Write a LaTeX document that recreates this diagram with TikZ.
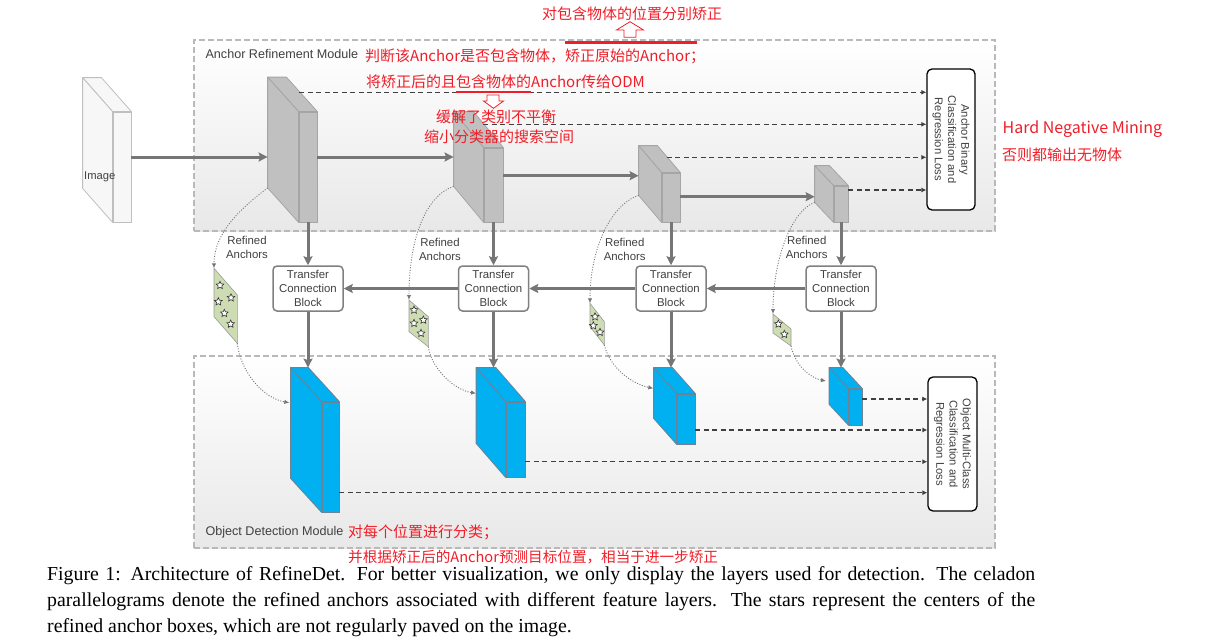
\documentclass[tikz,border=0pt]{standalone}
\usepackage{fontspec}
\setmainfont{Liberation Serif}
\setsansfont{Liberation Sans}
\newfontfamily\cjk{Noto Sans CJK SC}
\usetikzlibrary{calc,arrows.meta,shapes.geometric}
\definecolor{FlowGray}{RGB}{118,118,118}
\definecolor{TextGray}{RGB}{64,64,64}
\definecolor{LayerGray}{RGB}{192,192,192}
\definecolor{LayerEdge}{RGB}{165,165,165}
\definecolor{DetBlue}{RGB}{0,176,240}
\definecolor{DetEdge}{RGB}{110,130,150}
\definecolor{Celadon}{RGB}{205,220,178}
\definecolor{NoteRed}{RGB}{240,30,40}
\definecolor{ModuleEdge}{RGB}{185,185,185}
\tikzset{%
	% Style of the module frame
	Module/.style={rectangle,inner sep=0,draw=ModuleEdge,line width=1.3pt,dash pattern=on 6pt off 3pt,top color=white,bottom color=black!9},
	% Style of the module name
	ModuleName/.style={font=\sffamily\fontsize{12.6}{14}\selectfont,text=TextGray,anchor=west,inner sep=0},
	% Style of the front face of a layer
	Face/.style={rectangle,inner sep=0,line width=0.8pt},
	% Style of the transfer connection block
	Block/.style={rectangle,rounded corners=4pt,draw=black!50,line width=1.5pt,fill=white,minimum width=70pt,minimum height=45pt,align=center,font=\sffamily\fontsize{11.4}{14}\selectfont,text=TextGray,inner sep=0},
	% Style of the loss box and its text
	Loss/.style={rectangle,rounded corners=5pt,draw=black,line width=1.3pt,fill=white,inner sep=0},
	LossText/.style={rotate=-90,align=center,font=\sffamily\fontsize{11.2}{13.3}\selectfont,text=TextGray,inner sep=0},
	% Style of the small labels
	Label/.style={align=center,font=\sffamily\fontsize{11.4}{14}\selectfont,text=TextGray,inner sep=0},
	% Style of the red notes
	Note/.style={font=\cjk\fontsize{15}{18}\selectfont,text=NoteRed,anchor=west,inner sep=0},
	Hollow/.style={draw=NoteRed,fill=white,line width=0.8pt},
	Mark/.style={draw=NoteRed,line width=2.5pt},
	% Style of the connections
	Flow/.style={draw=FlowGray,line width=3pt,-{Stealth[length=9pt,width=9pt,inset=1.5pt]}},
	DashLink/.style={draw=black!75,line width=1.2pt,dash pattern=on 5pt off 3.5pt,-{Latex[length=5pt,width=5pt]}},
	DotLink/.style={draw=FlowGray,line width=0.9pt,dash pattern=on 1pt off 1.6pt,-{Latex[length=5pt,width=4.5pt]}},
	% Style of the refined anchors
	Anchors/.style={fill=Celadon,draw=black!40,line width=0.6pt},
	Star/.style={star,star points=5,star point ratio=2.1,minimum size=8pt,inner sep=0,draw=black!80,fill=white,line width=0.6pt},
	% Style of the caption
	Caption/.style={font=\rmfamily\fontsize{19.8}{26.5}\selectfont,anchor=base west,inner sep=0},
}
% layer: name, centre of front face, width, height, depth offset, fill, edge
\newcommand{\Layer}[7]{%
	\node[Face,fill=#6,draw=#7,minimum width=#3,minimum height=#4] (#1) at (#2) {};
	\filldraw[fill=#6,draw=#7,line width=0.8pt,line join=round] (#1.north west) -- ++(#5) coordinate (#1-bnw) -- ($(#1.north east)+(#5)$) coordinate (#1-bne) -- (#1.north east) -- cycle;
	\filldraw[fill=#6,draw=#7,line width=0.8pt,line join=round] (#1.north west) -- (#1-bnw) -- ($(#1.south west)+(#5)$) coordinate (#1-bsw) -- (#1.south west) -- cycle;
}
\begin{document}
\begin{tikzpicture}[x=1pt,y=-1pt] % STYLES
\useasboundingbox (0,0) rectangle (1222,640);

%~~~~~~~~~~~~~~~~~~~~~~~~~~~~~~~~~~~~~~~~~~~~~~~~~~
% Set Modules
%~~~~~~~~~~~~~~~~~~~~~~~~~~~~~~~~~~~~~~~~~~~~~~~~~~
\node[Module,minimum width=801pt,minimum height=191pt] (ARM) at (594.5,135.5) {};
\node[ModuleName] at ($ (ARM.north west) + (12, 15) $) {Anchor Refinement Module};

\node[Module,minimum width=801pt,minimum height=192pt] (ODM) at (594.5,452) {};
\node[ModuleName] at ($ (ODM.south west) + (12, -16.3) $) {Object Detection Module};

%~~~~~~~~~~~~~~~~~~~~~~~~~~~~~~~~~~~~~~~~~~~~~~~~~~
% Set Layers
%~~~~~~~~~~~~~~~~~~~~~~~~~~~~~~~~~~~~~~~~~~~~~~~~~~
\Layer{img}{122,167}{18pt}{110pt}{-30,-34}{black!3}{black!25}
\node[Label,anchor=west,font=\sffamily\fontsize{11.2}{13}\selectfont] at (84,176.7) {Image};

\Layer{L1}{308,167}{18pt}{110pt}{-31,-34.5}{LayerGray}{LayerEdge}
\Layer{L2}{493.5,185}{19pt}{74pt}{-30,-36}{LayerGray}{LayerEdge}
\Layer{L3}{671,197.5}{18pt}{49pt}{-23,-27}{LayerGray}{LayerEdge}
\Layer{L4}{841,204}{14pt}{36pt}{-19,-20}{LayerGray}{LayerEdge}

\Layer{D1}{330.5,457}{17pt}{110pt}{-31,-34}{DetBlue}{DetEdge}
\Layer{D2}{515.5,439.5}{19pt}{75pt}{-29.5,-34}{DetBlue}{DetEdge}
\Layer{D3}{686,419}{18pt}{50pt}{-23,-26}{DetBlue}{DetEdge}
\Layer{D4}{855.5,407}{13pt}{36pt}{-19.5,-21}{DetBlue}{DetEdge}

%~~~~~~~~~~~~~~~~~~~~~~~~~~~~~~~~~~~~~~~~~~~~~~~~~~
% Set Blocks
%~~~~~~~~~~~~~~~~~~~~~~~~~~~~~~~~~~~~~~~~~~~~~~~~~~
\node[Block] (T1) at (308,288.5) {Transfer\\Connection\\Block};
\node[Block] (T2) at (493.5,288.5) {Transfer\\Connection\\Block};
\node[Block] (T3) at (671,288.5) {Transfer\\Connection\\Block};
\node[Block] (T4) at (841,288.5) {Transfer\\Connection\\Block};

\node[Loss,minimum width=48pt,minimum height=141pt] (ARMLoss) at (951,139.5) {};
\node[LossText] at (ARMLoss) {Anchor Binary\\Classification and\\Regression Loss};

\node[Loss,minimum width=49pt,minimum height=134pt] (ODMLoss) at (952.5,444) {};
\node[LossText] at (ODMLoss) {Object Multi-Class\\Classification and\\Regression Loss};

%~~~~~~~~~~~~~~~~~~~~~~~~~~~~~~~~~~~~~~~~~~~~~~~~~~
% Set Refined Anchors
%~~~~~~~~~~~~~~~~~~~~~~~~~~~~~~~~~~~~~~~~~~~~~~~~~~
\filldraw[Anchors] (214,268.3) coordinate (R1top) -- (237.3,295) -- (237.3,343.3) coordinate (R1bot) -- (214,316.7) -- cycle;
\filldraw[Anchors] (409,300) coordinate (R2top) -- (428.3,316.7) -- (428.3,346.7) coordinate (R2bot) -- (409,331.7) -- cycle;
\filldraw[Anchors] (590,303.3) coordinate (R3top) -- (604.3,321.7) -- (604.3,345) coordinate (R3bot) -- (590,326.7) -- cycle;
\filldraw[Anchors] (773,314) coordinate (R4top) -- (791,329) -- (791,346) coordinate (R4bot) -- (773,333) -- cycle;

\foreach \p [count=\i] in {{220,285.3},{218.3,301.7},{231,297.7},{224.3,313.3},{230.7,324}}
	\node[Star] (S1-\i) at (\p) {};
\foreach \p [count=\i] in {{414,310},{414,323.3},{423.3,320},{421,333.3}}
	\node[Star] (S2-\i) at (\p) {};
\foreach \p [count=\i] in {{595,316.7},{593.3,325.7},{600,332.3}}
	\node[Star] (S3-\i) at (\p) {};
\foreach \p [count=\i] in {{778.3,324},{784.3,334.3}}
	\node[Star] (S4-\i) at (\p) {};

\node[Label] (RA1) at (247,247) {Refined\\Anchors};
\node[Label] (RA2) at (440,249) {Refined\\Anchors};
\node[Label] (RA3) at (624.7,249) {Refined\\Anchors};
\node[Label] (RA4) at (806.7,247) {Refined\\Anchors};

%~~~~~~~~~~~~~~~~~~~~~~~~~~~~~~~~~~~~~~~~~~~~~~~~~~
% Set Branches
%~~~~~~~~~~~~~~~~~~~~~~~~~~~~~~~~~~~~~~~~~~~~~~~~~~
%Branch from image to the refinement layers
\draw[Flow] (img.east |- 0,157) -- (L1-bnw |- 0,157);
\draw[Flow] (L1.east |- 0,157) -- (L2-bnw |- 0,157);
\draw[Flow] (L2.east |- 0,175.7) -- (L3-bnw |- 0,175.7);
\draw[Flow] (L3.east |- 0,196.7) -- (L4-bnw |- 0,196.7);

%Branch from refinement layers to blocks
\draw[Flow] (L1.south) -- (L1.south |- T1.north);
\draw[Flow] (L2.south) -- (L2.south |- T2.north);
\draw[Flow] (L3.south) -- (L3.south |- T3.north);
\draw[Flow] (L4.south) -- (L4.south |- T4.north);

%Branch between blocks
\draw[Flow] (T4.west) -- (T3.east);
\draw[Flow] (T3.west) -- (T2.east);
\draw[Flow] (T2.west) -- (T1.east);

%Branch from blocks to detection layers
\draw[Flow] (T1.south) -- (T1.south |- D1-bne);
\draw[Flow] (T2.south) -- (T2.south |- D2-bne);
\draw[Flow] (T3.south) -- (T3.south |- D3-bne);
\draw[Flow] (T4.south) -- (T4.south |- D4-bne);

%Branch to the losses
\coordinate (A1) at (299,92.3);
\coordinate (A2) at (483,124.3);
\coordinate (A3) at (666.5,157.3);
\coordinate (A4) at (L4.east |- 0,190);
\foreach \a in {A1,A2,A3,A4}
	\draw[DashLink] (\a) -- (\a -| ARMLoss.west);

\draw[DashLink] (D4.east |- 0,399) -- (ODMLoss.west |- 0,399);
\draw[DashLink] (D3.east |- 0,430) -- (ODMLoss.west |- 0,430);
\draw[DashLink] (D2.east |- 0,461.7) -- (ODMLoss.west |- 0,461.7);
\draw[DashLink] (D1.east |- 0,492.7) -- (ODMLoss.west |- 0,492.7);

%Branch through the refined anchors
\draw[DotLink] (L1-bsw) ..controls (240,209) and (214,233) .. (R1top);
\draw[DotLink] (R1bot) ..controls (240,370) and (262,398) .. (289.3,402.7);
\draw[DotLink] (L2-bsw) ..controls (425,196) and (409,240) .. (R2top);
\draw[DotLink] (R2bot) ..controls (432,370) and (455,390) .. (476,393.3);
\draw[DotLink] (L3-bsw) ..controls (610,205) and (590,250) .. (R3top);
\draw[DotLink] (R3bot) ..controls (610,368) and (632,384) .. (653.3,388.3);
\draw[DotLink] (L4-bsw) ..controls (790,212) and (773,262) .. (R4top);
\draw[DotLink] (R4bot) ..controls (795,365) and (810,378) .. (826,381);

%~~~~~~~~~~~~~~~~~~~~~~~~~~~~~~~~~~~~~~~~~~~~~~~~~~
% Set Notes
%~~~~~~~~~~~~~~~~~~~~~~~~~~~~~~~~~~~~~~~~~~~~~~~~~~
\node[Note] (N1) at (542,14) {对包含物体的位置分别矫正};
\node[Note] (N2) at (365,56) {判断该Anchor是否包含物体，矫正原始的Anchor；};
\node[Note] (N3) at (366,81.7) {将矫正后的且包含物体的Anchor传给ODM};
\node[Note] (N4) at (436,117) {缓解了类别不平衡};
\node[Note] (N5) at (424,136.7) {缩小分类器的搜索空间};
\node[Note,font=\cjk\fontsize{16}{18}\selectfont] (N6) at (1002.5,129) {Hard Negative Mining};
\node[Note] (N7) at (1002,154.3) {否则都输出无物体};
\node[Note] (N8) at (348,532) {对每个位置进行分类；};
\node[Note,font=\cjk\fontsize{14.6}{17}\selectfont] (N9) at (348,557.5) {并根据矫正后的Anchor预测目标位置，相当于进一步矫正};

\draw[Mark] (565,42.7) -- (697,42.7);
\draw[Mark] (456,92) -- (531,92);
\filldraw[Hollow] (624,37.3) -- (636,37.3) -- (636,30) -- (643.5,30) -- (630,21.7) -- (616.5,30) -- (624,30) -- cycle;
\filldraw[Hollow] (487,95) -- (499,95) -- (499,101) -- (503.5,101) -- (493.5,108.3) -- (483.5,101) -- (487,101) -- cycle;

%~~~~~~~~~~~~~~~~~~~~~~~~~~~~~~~~~~~~~~~~~~~~~~~~~~
% Set Caption
%~~~~~~~~~~~~~~~~~~~~~~~~~~~~~~~~~~~~~~~~~~~~~~~~~~
\node[Caption] (C1) at (47,580) {\makebox[988pt][s]{Figure 1: Architecture of RefineDet.  For better visualization, we only display the layers used for detection.  The celadon}};
\node[Caption] (C2) at (47,606) {\makebox[988pt][s]{parallelograms denote the refined anchors associated with different feature layers.  The stars represent the centers of the}};
\node[Caption] (C3) at (47,632.5) {refined anchor boxes, which are not regularly paved on the image.};

\end{tikzpicture}
\end{document}
